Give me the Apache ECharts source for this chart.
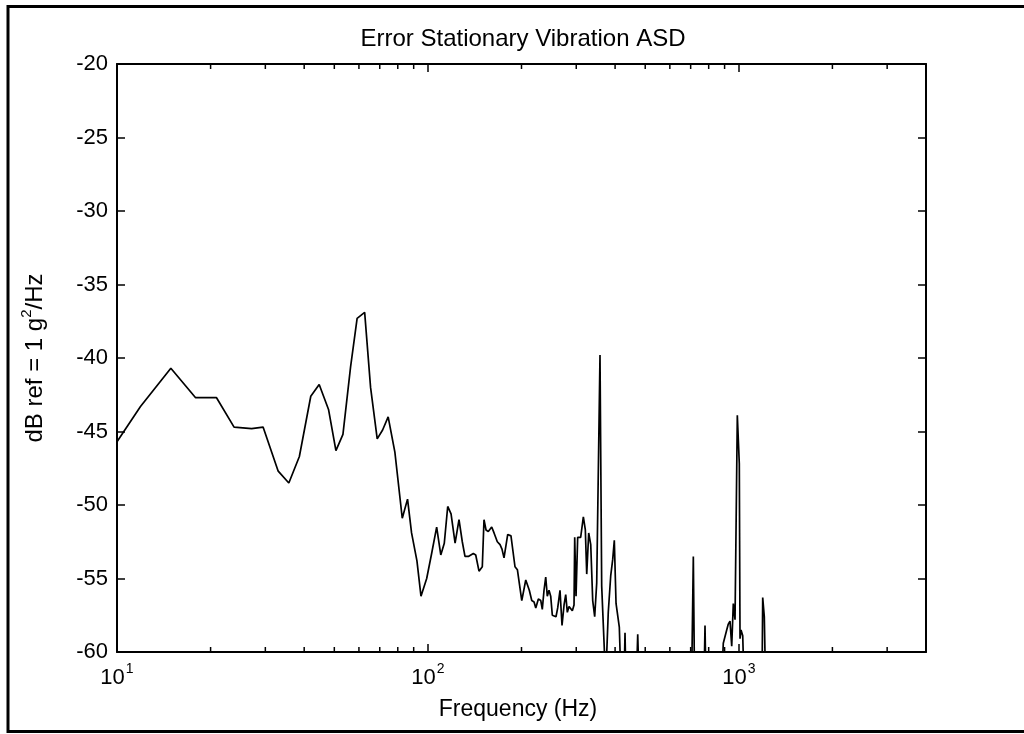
<!DOCTYPE html>
<html>
<head>
<meta charset="utf-8">
<script src="https://cdn.jsdelivr.net/npm/echarts@6/dist/echarts.min.js"></script>
<style>
  html, body { margin: 0; padding: 0; background: #fff; }
  #chart { width: 1024px; height: 734px; }
</style>
</head>
<body>
<div id="chart"></div>
<script>
// Error stationary vibration ASD, dB ref 1 g^2/Hz versus frequency (Hz).
// Values below -60 dB fall under the plotted floor and are clipped by the axes.
const freqHz = [
  10.0, 11.9, 14.9, 17.9, 20.9, 23.8, 27.1, 29.5, 33.0, 35.7,
  38.6, 42.0, 44.7, 47.9, 50.6, 53.3, 56.4, 59.2, 62.6, 65.4,
  68.7, 71.5, 74.5, 78.3, 82.7, 86.0, 88.6, 92.2, 95.0, 99.1,
  102.8, 106.7, 110.0, 112.9, 115.8, 118.7, 122.3, 125.9, 129.0, 131.6,
  134.9, 136.6, 140.0, 142.5, 146.0, 149.6, 151.5, 153.8, 156.4, 160.4,
  163.2, 167.2, 170.6, 173.1, 175.7, 180.6, 185.0, 190.6, 194.0, 200.4,
  206.4, 209.4, 211.9, 215.8, 219.5, 222.3, 226.6, 230.7, 233.3, 236.3,
  239.3, 242.1, 245.2, 248.3, 251.3, 255.0, 258.2, 261.5, 266.0, 270.0,
  274.1, 277.5, 280.8, 284.4, 287.9, 291.4, 295.1, 296.6, 299.5, 301.3,
  303.2, 305.5, 310.0, 316.2, 320.9, 324.2, 329.0, 334.0, 338.9, 343.9,
  349.1, 357.7, 362.2, 366.5, 373.0, 380.3, 387.3, 393.0, 397.7, 402.8,
  407.8, 412.7, 417.9, 427.4, 430.5, 433.5, 468.3, 473.0, 477.6, 705.0,
  714.0, 720.4, 773.0, 778.5, 784.0, 881.0, 891.4, 914.2, 925.1, 936.9,
  948.8, 960.0, 972.3, 989.0, 1003.7, 1009.0, 1016.5, 1029.4, 1039.2, 1187.7,
  1193.6, 1207.8, 1218.6
];
const levelDb = [
  -45.7, -43.3, -40.7, -42.7, -42.7, -44.7, -44.8, -44.7, -47.7, -48.5,
  -46.7, -42.6, -41.8, -43.5, -46.3, -45.2, -40.6, -37.3, -36.9, -42.0,
  -45.5, -44.9, -44.0, -46.4, -50.9, -49.6, -51.9, -53.8, -56.2, -55.0,
  -53.3, -51.5, -53.4, -52.6, -50.1, -50.6, -52.6, -51.0, -52.5, -53.5,
  -53.5, -53.6, -53.3, -53.4, -54.5, -54.2, -51.0, -51.7, -51.8, -51.5,
  -51.9, -52.5, -52.7, -53.0, -53.6, -52.0, -52.1, -54.2, -54.4, -56.5,
  -55.1, -55.0, -55.8, -56.5, -56.6, -57.0, -56.4, -56.5, -57.1, -55.8,
  -54.9, -56.2, -55.8, -56.2, -57.5, -57.5, -57.6, -57.0, -55.8, -58.2,
  -56.8, -56.1, -57.3, -56.9, -56.9, -57.2, -56.8, -52.2, -56.2, -56.1,
  -52.2, -52.3, -52.2, -50.8, -51.7, -54.7, -51.9, -52.7, -56.5, -57.6,
  -55.3, -39.8, -55.5, -55.5, -62.0, -57.3, -54.8, -53.7, -52.4, -56.7,
  -56.7, -58.3, -62.0, -62.0, -58.7, -62.0, -62.0, -58.8, -62.0, -62.0,
  -53.5, -62.0, -62.0, -58.2, -62.0, -62.0, -59.4, -58.5, -58.1, -57.9,
  -59.6, -56.7, -57.8, -43.9, -47.2, -59.1, -58.5, -58.9, -62.0, -62.0,
  -56.3, -57.6, -62.0
];

// Axis extents and tick positions
const freqRange = [10, 4000];
const levelRange = [-60, -20];
const levelStep = 5;
const minorTickHz = [20, 30, 40, 50, 60, 70, 80, 90,
                     200, 300, 400, 500, 600, 700, 800, 900,
                     2000, 3000];

const FONT = "'Liberation Sans', Arial, Helvetica, sans-serif";
const INK = '#000';

const chart = echarts.init(document.getElementById('chart'), null, { renderer: 'canvas' });

function powerLabel(v) {
  const e = Math.log10(v);
  const r = Math.round(e);
  return Math.abs(e - r) < 1e-6 ? '{b|10}{s|' + r + '}' : '';
}

const tickStyle = { color: INK, width: 1.5 };
const lineAxis = { lineStyle: { color: INK, width: 2 } };

chart.setOption({
  animation: false,
  backgroundColor: '#fff',
  title: {
    text: 'Error Stationary Vibration ASD',
    left: 518,
    textAlign: 'center',
    top: 22,
    textStyle: { fontFamily: FONT, fontSize: 24, fontWeight: 'normal', color: INK }
  },
  graphic: [{
    type: 'rect',
    silent: true,
    shape: { x: 8, y: 6.5, width: 1040, height: 725 },
    style: { fill: null, stroke: INK, lineWidth: 3 },
    z: 100
  }],
  grid: {
    left: 117, right: 98, top: 64, bottom: 82,
    show: true, borderColor: INK, borderWidth: 0, backgroundColor: '#fff'
  },
  xAxis: [{
    type: 'log', logBase: 10,
    min: freqRange[0], max: freqRange[1],
    position: 'bottom',
    axisLine: lineAxis,
    axisTick: { inside: true, length: 8, lineStyle: tickStyle },
    splitLine: { show: false },
    axisLabel: {
      margin: 10,
      formatter: powerLabel,
      rich: {
        b: { fontFamily: FONT, fontSize: 22, color: INK },
        s: { fontFamily: FONT, fontSize: 14, color: INK, padding: [0, 0, 18, 1] }
      }
    },
    name: 'Frequency (Hz)',
    nameLocation: 'middle',
    nameGap: 46,
    nameTextStyle: { fontFamily: FONT, fontSize: 23, color: INK, padding: [0, 7, 0, 0] }
  }, {
    type: 'log', logBase: 10,
    min: freqRange[0], max: freqRange[1],
    position: 'top',
    axisLine: lineAxis,
    axisTick: { inside: true, length: 8, lineStyle: tickStyle },
    axisLabel: { show: false },
    splitLine: { show: false }
  }],
  yAxis: [{
    type: 'value',
    min: levelRange[0], max: levelRange[1], interval: levelStep,
    position: 'left',
    axisLine: { show: true, ...lineAxis },
    axisTick: { show: true, inside: true, length: 8, lineStyle: tickStyle },
    splitLine: { show: false },
    axisLabel: { margin: 9, fontFamily: FONT, fontSize: 22, color: INK },
    name: '{t|dB ref = 1 g}{s|2}{t|/Hz}',
    nameLocation: 'middle',
    nameGap: 66,
    nameRotate: 90,
    nameTextStyle: {
      rich: {
        t: { fontFamily: FONT, fontSize: 24, color: INK },
        s: { fontFamily: FONT, fontSize: 15, color: INK, padding: [0, 0, 17, 0] }
      }
    }
  }, {
    type: 'value',
    min: levelRange[0], max: levelRange[1], interval: levelStep,
    position: 'right',
    axisLine: { show: true, ...lineAxis },
    axisTick: { show: true, inside: true, length: 8, lineStyle: tickStyle },
    axisLabel: { show: false },
    splitLine: { show: false }
  }],
  series: [{
    name: 'ASD',
    type: 'line',
    xAxisIndex: 0, yAxisIndex: 0,
    data: freqHz.map((f, i) => [f, levelDb[i]]),
    showSymbol: false,
    clip: true,
    lineStyle: { color: INK, width: 1.7 },
    z: 5
  }, {
    // Minor log ticks (2..9 x each decade) on the bottom and top edges
    name: 'minorTicks',
    type: 'custom',
    xAxisIndex: 0, yAxisIndex: 0,
    silent: true,
    data: minorTickHz.map(f => [f, levelRange[0]]),
    renderItem(params, api) {
      const f = api.value(0);
      const b = api.coord([f, levelRange[0]]);
      const t = api.coord([f, levelRange[1]]);
      return {
        type: 'group',
        children: [
          { type: 'line', shape: { x1: b[0], y1: b[1], x2: b[0], y2: b[1] - 5 }, style: { stroke: INK, lineWidth: 1.5 } },
          { type: 'line', shape: { x1: t[0], y1: t[1], x2: t[0], y2: t[1] + 5 }, style: { stroke: INK, lineWidth: 1.5 } }
        ]
      };
    },
    z: 6
  }]
});
</script>
</body>
</html>
